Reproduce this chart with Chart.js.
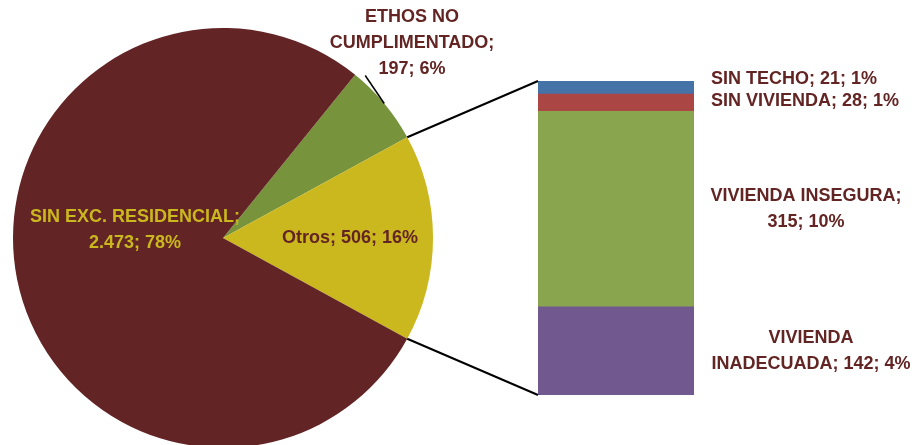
<!DOCTYPE html>
<html><head><meta charset="utf-8">
<script src="https://cdn.jsdelivr.net/npm/chart.js@4"></script>
<style>
html,body{margin:0;padding:0;background:#fff;overflow:hidden;width:916px;height:445px;}
#pie{position:absolute;left:13px;top:28px;}
#bar{position:absolute;left:0;top:0;}
</style></head><body>
<canvas id="pie" width="420" height="420"></canvas>
<canvas id="bar" width="916" height="445"></canvas>
<script>
// ---- data ----
const pieCategories = ['ETHOS NO CUMPLIMENTADO', 'Otros', 'SIN EXC. RESIDENCIAL'];
const pieValues = [197, 506, 2473];
const pieColors = ['#77933C', '#CBB81E', '#622425'];
const barCategories = ['VIVIENDA INADECUADA', 'VIVIENDA INSEGURA', 'SIN VIVIENDA', 'SIN TECHO'];
const barValues = [142, 315, 28, 21];
const barColors = ['#71588F', '#89A54E', '#AA4643', '#4572A7'];

const total = pieValues.reduce((a, b) => a + b, 0);
const otrosIndex = 1;
const fmt = v => String(v).replace(/\B(?=(\d{3})+(?!\d))/g, '.');
const pct = v => Math.round(v / total * 100) + '%';
const lbl = (name, v) => name + '; ' + fmt(v) + '; ' + pct(v);

const FONT = 'bold 18px "Liberation Sans", Arial, sans-serif';
const LABEL = '#632523';
const LABEL_Y = '#CBB81E';

// rotate so that the "Otros" slice is centred on the right (3 o'clock)
const before = pieValues.slice(0, otrosIndex).reduce((a, b) => a + b, 0);
const rotation = 90 - (before + pieValues[otrosIndex] / 2) / total * 360;

const pieChart = new Chart(document.getElementById('pie'), {
  type: 'pie',
  data: { labels: pieCategories, datasets: [{ data: pieValues, backgroundColor: pieColors, borderWidth: 0, hoverOffset: 0 }] },
  options: {
    responsive: false, animation: false, rotation: rotation,
    layout: { padding: 0 },
    plugins: { legend: { display: false }, tooltip: { enabled: false } }
  }
});

function drawBlock(ctx, lines, x, yCenter, align, color, lh) {
  ctx.save();
  ctx.font = FONT; ctx.fillStyle = color; ctx.textAlign = align; ctx.textBaseline = 'middle';
  const y0 = yCenter - (lines.length - 1) * lh / 2;
  lines.forEach((t, i) => ctx.fillText(t, x, y0 + i * lh));
  ctx.restore();
}

const overlay = {
  id: 'overlay',
  afterDraw(chart) {
    const ctx = chart.ctx;
    const pc = document.getElementById('pie');
    const ox = pc.offsetLeft, oy = pc.offsetTop;
    const arcs = pieChart.getDatasetMeta(0).data;
    const a = arcs[otrosIndex];
    const cx = a.x + ox, cy = a.y + oy, r = a.outerRadius;
    const topEl = chart.getDatasetMeta(barValues.length - 1).data[0];
    const botEl = chart.getDatasetMeta(0).data[0];
    const left = topEl.x - topEl.width / 2;
    const right = topEl.x + topEl.width / 2;

    // connector lines
    ctx.save();
    ctx.strokeStyle = '#000'; ctx.lineWidth = 2;
    ctx.beginPath();
    ctx.moveTo(cx + r * Math.cos(a.startAngle), cy + r * Math.sin(a.startAngle));
    ctx.lineTo(left, topEl.y);
    ctx.moveTo(cx + r * Math.cos(a.endAngle), cy + r * Math.sin(a.endAngle));
    ctx.lineTo(left, botEl.base);
    ctx.stroke();

    // ETHOS leader line
    const e = arcs[0];
    const em = (e.startAngle + e.endAngle) / 2;
    const ex = cx + r * Math.cos(em), ey = cy + r * Math.sin(em);
    ctx.lineWidth = 1.5;
    ctx.beginPath();
    ctx.moveTo(ex, ey);
    ctx.lineTo(ex - 19, ey - 28);
    ctx.stroke();
    ctx.restore();

    // pie labels
    drawBlock(ctx, ['ETHOS NO', 'CUMPLIMENTADO;', fmt(pieValues[0]) + '; ' + pct(pieValues[0])], cx + 189, cy - 195, 'center', LABEL, 26);
    drawBlock(ctx, [lbl(pieCategories[1], pieValues[1])], cx + 127, cy, 'center', LABEL, 26);
    drawBlock(ctx, ['SIN EXC. RESIDENCIAL;', fmt(pieValues[2]) + '; ' + pct(pieValues[2])], cx - 88, cy - 8, 'center', LABEL_Y, 26);

    // bar labels
    const mid = i => { const el = chart.getDatasetMeta(i).data[0]; return (el.y + el.base) / 2; };
    drawBlock(ctx, [lbl(barCategories[3], barValues[3])], right + 17, mid(3) - 8, 'left', LABEL, 26);
    drawBlock(ctx, [lbl(barCategories[2], barValues[2])], right + 17, mid(2) - 2, 'left', LABEL, 26);
    drawBlock(ctx, ['VIVIENDA INSEGURA;', fmt(barValues[1]) + '; ' + pct(barValues[1])], right + 112, mid(1), 'center', LABEL, 26);
    drawBlock(ctx, ['VIVIENDA', 'INADECUADA; ' + fmt(barValues[0]) + '; ' + pct(barValues[0])], right + 117, mid(0), 'center', LABEL, 26);
  }
};

new Chart(document.getElementById('bar'), {
  type: 'bar',
  data: {
    labels: [''],
    datasets: barCategories.map((c, i) => ({
      label: c, data: [barValues[i]], backgroundColor: barColors[i],
      borderWidth: 0, barPercentage: 1, categoryPercentage: 1
    }))
  },
  options: {
    responsive: false, animation: false,
    layout: { padding: { left: 538, right: 222, top: 81, bottom: 50 } },
    scales: {
      x: { stacked: true, display: false },
      y: { stacked: true, display: false, min: 0, max: pieValues[otrosIndex] }
    },
    plugins: { legend: { display: false }, tooltip: { enabled: false } }
  },
  plugins: [overlay]
});
</script>
</body></html>
